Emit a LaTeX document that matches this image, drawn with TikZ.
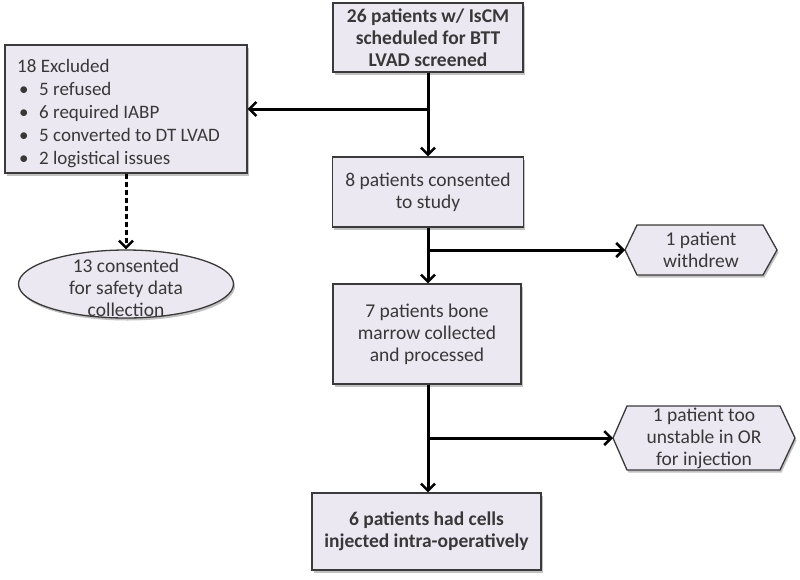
\documentclass[tikz,border=0pt]{standalone}
\usepackage{fontspec}
\setmainfont{Carlito}
\usetikzlibrary{arrows.meta,shapes.geometric,shadows}
\definecolor{boxfill}{HTML}{ECE8F2}
\definecolor{boxline}{HTML}{3A3A3A}
\definecolor{txt}{HTML}{383838}
\begin{document}
\begin{tikzpicture}[x=1pt,y=-1pt,
  shad/.style={drop shadow={shadow xshift=1.5pt,shadow yshift=-2.5pt,opacity=.35,fill=black!70}},
  box/.style={draw=boxline,fill=boxfill,line width=1.3pt,shad,inner sep=0pt,align=center,
     text=txt,font=\fontsize{19.5}{22}\selectfont},
  bbox/.style={box,font=\fontsize{19.5}{22}\selectfont\bfseries},
  lbl/.style={inner sep=0pt,align=center,text=txt,font=\fontsize{19.5}{22}\selectfont},
  hexs/.style={draw=boxline,fill=boxfill,line width=1.3pt,shad,line join=miter},
  arr/.style={line width=3pt,-{Straight Barb[length=7pt,width=14pt,line width=2.5pt]}},
]
\useasboundingbox (0,0) rectangle (800,579);
% nodes
\node[bbox,minimum width=190pt,minimum height=69pt] (top) at (428,37.5)
  {26 patients w/ IsCM\\scheduled for BTT\\LVAD screened};
\node[box,minimum width=242pt,minimum height=128pt] (excl) at (126,109) {};
\node[lbl,anchor=west,align=left,font=\fontsize{19}{23}\selectfont] (excltxt) at (17,114)
  {18 Excluded\\
   \hspace*{2pt}\makebox[20pt][l]{•}5 refused\\
   \hspace*{2pt}\makebox[20pt][l]{•}6 required IABP\\
   \hspace*{2pt}\makebox[20pt][l]{•}5 converted to DT LVAD\\
   \hspace*{2pt}\makebox[20pt][l]{•}2 logistical issues};
\node[box,minimum width=191pt,minimum height=70pt] (consent) at (428,192)
  {8 patients consented\\to study};
\node[box,minimum width=188pt,minimum height=100pt] (marrow) at (427,334)
  {7 patients bone\\marrow collected\\and processed};
\node[bbox,minimum width=229pt,minimum height=77pt] (inject) at (426.5,531.5)
  {6 patients had cells\\injected intra-operatively};
\node[ellipse,draw=boxline,fill=boxfill,line width=1.3pt,shad,minimum width=215pt,minimum height=68pt,inner sep=0pt] (safe) at (126,284) {};
\node[lbl] (safetxt) at (126,288) {13 consented\\for safety data\\collection};
% hexagons
\path[hexs] (625,250) -- (637,225) -- (763,225) -- (777,250) -- (763,275) -- (637,275) -- cycle;
\coordinate (w1) at (625,250);
\node[lbl] (withdrew) at (701,250) {1 patient\\withdrew};
\path[hexs] (613,438) -- (627,406) -- (780,406) -- (795,438) -- (780,470) -- (627,470) -- cycle;
\coordinate (w2) at (613,438);
\node[lbl] (unstable) at (704,438) {1 patient too\\unstable in OR\\for injection};
% connectors
\draw[arr] (top.south -| consent.north) -- (consent.north);
\draw[arr] (excl.east -| consent.north) -- (excl.east);
\draw[arr] (consent.south) -- (marrow.north -| consent.south);
\draw[arr] (w1 -| consent.south) -- (w1);
\draw[arr] (marrow.south -| consent.south) -- (inject.north -| consent.south);
\draw[arr] (w2 -| consent.south) -- (w2);
\draw[arr,dash pattern=on 5pt off 3pt] (excl.south) -- (safe.north);
\end{tikzpicture}
\end{document}
